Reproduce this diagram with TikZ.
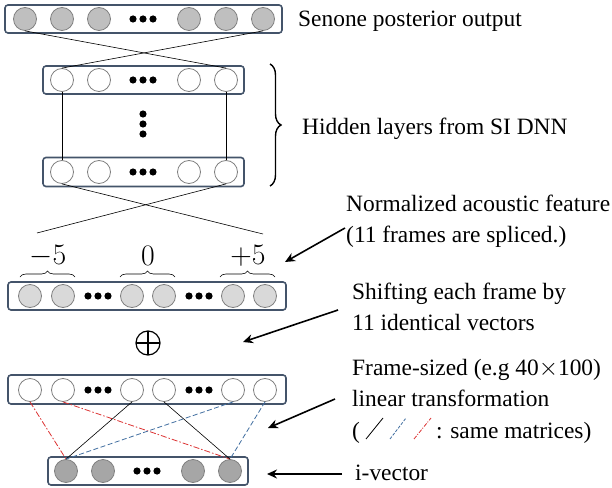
\documentclass[tikz,border=0pt]{standalone}
\usepackage{graphicx}
\usepackage{fontspec}
\setmainfont{Liberation Serif}
\usetikzlibrary{positioning, arrows.meta, decorations.pathreplacing}

\definecolor{boxblue}{RGB}{68,84,106}
\definecolor{unitgray}{RGB}{128,128,128}
\definecolor{outfill}{RGB}{191,191,191}
\definecolor{infill}{RGB}{217,217,217}
\definecolor{ivecfill}{RGB}{166,166,166}
\definecolor{tred}{RGB}{220,50,50}
\definecolor{tblue}{RGB}{65,110,160}

\tikzset{
  layer/.style = {rectangle, draw=boxblue, line width=1.6bp, rounded corners=3bp, inner sep=0pt},
  unit/.style = {circle, draw=unitgray, line width=0.8bp, minimum size=23bp, inner sep=0pt},
  note/.style = {font=\fontsize{23.5}{31.5}\selectfont, align=left, inner sep=0pt},
  offset/.style = {font=\fontsize{31}{34}\selectfont},
  pointer/.style = {-{Stealth[length=10bp,width=9bp]}, line width=1.6bp},
  redlink/.style = {tred, line width=0.8bp, dash pattern=on 6bp off 2bp on 1.5bp off 2bp},
  bluelink/.style = {tblue, line width=0.8bp, dash pattern=on 5bp off 2.5bp}
}
\newcommand{\rowdots}[1]{\fill (#1) ++(-10,0) circle (3.6bp) ++(10,0) circle (3.6bp) ++(10,0) circle (3.6bp);}

\begin{document}
\begin{tikzpicture}[x=1bp, y=-1bp]
\useasboundingbox (0,0) rectangle (612,488);

% senone output layer
\node[layer, minimum width=277bp, minimum height=28bp] (outbox) at (143.5,19) {};
\node[unit, fill=outfill] (o1) at (25,19) {};
\node[unit, fill=outfill] (o2) at (62,19) {};
\node[unit, fill=outfill] (o3) at (99,19) {};
\node[unit, fill=outfill] (o4) at (189,19) {};
\node[unit, fill=outfill] (o5) at (226,19) {};
\node[unit, fill=outfill] (o6) at (263,19) {};
\rowdots{143,19}
\node[note, anchor=base west] (outtext) at (298,27) {Senone posterior output};

% hidden layers
\node[layer, minimum width=201bp, minimum height=28bp] (hidbox1) at (143.5,80) {};
\node[unit] (h1) at (62,80) {};
\node[unit] (h2) at (99,80) {};
\node[unit] (h3) at (189,80) {};
\node[unit] (h4) at (226,80) {};
\rowdots{143,80}
\node[layer, minimum width=201bp, minimum height=29bp] (hidbox2) at (143.5,172) {};
\node[unit] (g1) at (62,172) {};
\node[unit] (g2) at (99,172) {};
\node[unit] (g3) at (189,172) {};
\node[unit] (g4) at (226,172) {};
\rowdots{143,172}
\fill (143,114) circle (3.6bp) (143,124) circle (3.6bp) (143,134) circle (3.6bp);

\draw[line width=0.6bp] (o1.south) -- (h4.north);
\draw[line width=0.6bp] (o6.south) -- (h1.north);
\draw[line width=0.6bp] (h1.south) -- (g1.north);
\draw[line width=0.6bp] (h4.south) -- (g4.north);

\coordinate (splitl) at (37,233);
\coordinate (splitr) at (263,234);
\draw[line width=0.6bp] (g1.south) -- (splitr);
\draw[line width=0.6bp] (g4.south) -- (splitl);

\draw[line width=1.4bp, decorate, decoration={brace, amplitude=11bp}] (270,64) -- (270,186);
\node[note, anchor=base west] (hidtext) at (302,135) {Hidden layers from SI DNN};

% spliced input frames
\node[offset] (minus) at (48,256) {\scalebox{1.2}{$-5$}};
\node[offset] (zero) at (148,256) {\scalebox{1.2}{$0$}};
\node[offset] (plus5) at (248,256) {\scalebox{1.2}{$+5$}};
\draw[line width=0.6bp, decorate, decoration={brace, amplitude=6bp}] (20,277) -- (75,277);
\draw[line width=0.6bp, decorate, decoration={brace, amplitude=6bp}] (120,277) -- (175,277);
\draw[line width=0.6bp, decorate, decoration={brace, amplitude=6bp}] (220,277) -- (275,277);

\node[layer, minimum width=278bp, minimum height=28bp] (inbox) at (147,296) {};
\node[unit, fill=infill] (x1) at (30,296) {};
\node[unit, fill=infill] (x2) at (63,296) {};
\node[unit, fill=infill] (x3) at (132,296) {};
\node[unit, fill=infill] (x4) at (164,296) {};
\node[unit, fill=infill] (x5) at (233,296) {};
\node[unit, fill=infill] (x6) at (265,296) {};
\rowdots{98,296}
\rowdots{199,296}
\node[note, anchor=west] (normtext) at (346,221) {Normalized acoustic feature\\(11 frames are spliced.)};
\coordinate (normtip) at (285,262);
\draw[pointer] ([xshift=-1bp,yshift=-7bp]normtext.west) -- (normtip);

% shift
\node[circle, draw, line width=1.2bp, minimum size=24bp, inner sep=0pt,
  path picture={\draw[line width=1.2bp] (path picture bounding box.north) -- (path picture bounding box.south)
    (path picture bounding box.west) -- (path picture bounding box.east);}] (oplus) at (148,343) {};
\node[note, anchor=west] (shifttext) at (352,307) {Shifting each frame by\\11 identical vectors};
\coordinate (shifttip) at (243,342);
\draw[pointer] ([xshift=-14bp,yshift=-3bp]shifttext.west) -- (shifttip);

% frame-sized transform
\node[layer, minimum width=278bp, minimum height=29bp] (tbox) at (147,389.5) {};
\node[unit] (t1) at (30,390) {};
\node[unit] (t2) at (63,390) {};
\node[unit] (t3) at (132,390) {};
\node[unit] (t4) at (164,390) {};
\node[unit] (t5) at (233,390) {};
\node[unit] (t6) at (265,390) {};
\rowdots{98,390}
\rowdots{199,390}

\node[layer, minimum width=200bp, minimum height=28bp] (ivbox) at (148,471) {};
\node[unit, fill=ivecfill] (v1) at (66,471) {};
\node[unit, fill=ivecfill] (v2) at (103,471) {};
\node[unit, fill=ivecfill] (v3) at (193,471) {};
\node[unit, fill=ivecfill] (v4) at (230,471) {};
\rowdots{147,471}

\draw[redlink] (t1.south) -- (v1.north);
\draw[redlink] (t2.south) -- (v4.north);
\draw[line width=0.6bp] (t3.south) -- (v1.north);
\draw[line width=0.6bp] (t4.south) -- (v4.north);
\draw[bluelink] (t5.south) -- (v1.north);
\draw[bluelink] (t6.south) -- (v4.north);

\node[note, anchor=west] (frametext) at (352,401) {Frame-sized (e.g 40$\times$100)\\linear transformation\\(\hspace{76bp}: same matrices)};
\draw[line width=0.8bp] (366,439) -- (383,418);
\draw[tblue, line width=0.8bp, dash pattern=on 3bp off 1.5bp] (390,439) -- (406,418);
\draw[tred, line width=0.8bp, dash pattern=on 4bp off 1.5bp on 1bp off 1.5bp] (414,439) -- (431,418);
\coordinate (frametip) at (268,428);
\draw[pointer] ([xshift=-17bp,yshift=2bp]frametext.west) -- (frametip);

\node[note, anchor=base west] (ivtext) at (355,480) {i-vector};
\coordinate (ivtip) at (267,474);
\draw[pointer] ([xshift=-13bp]ivtext.base west |- ivtip) -- (ivtip);
\end{tikzpicture}
\end{document}
